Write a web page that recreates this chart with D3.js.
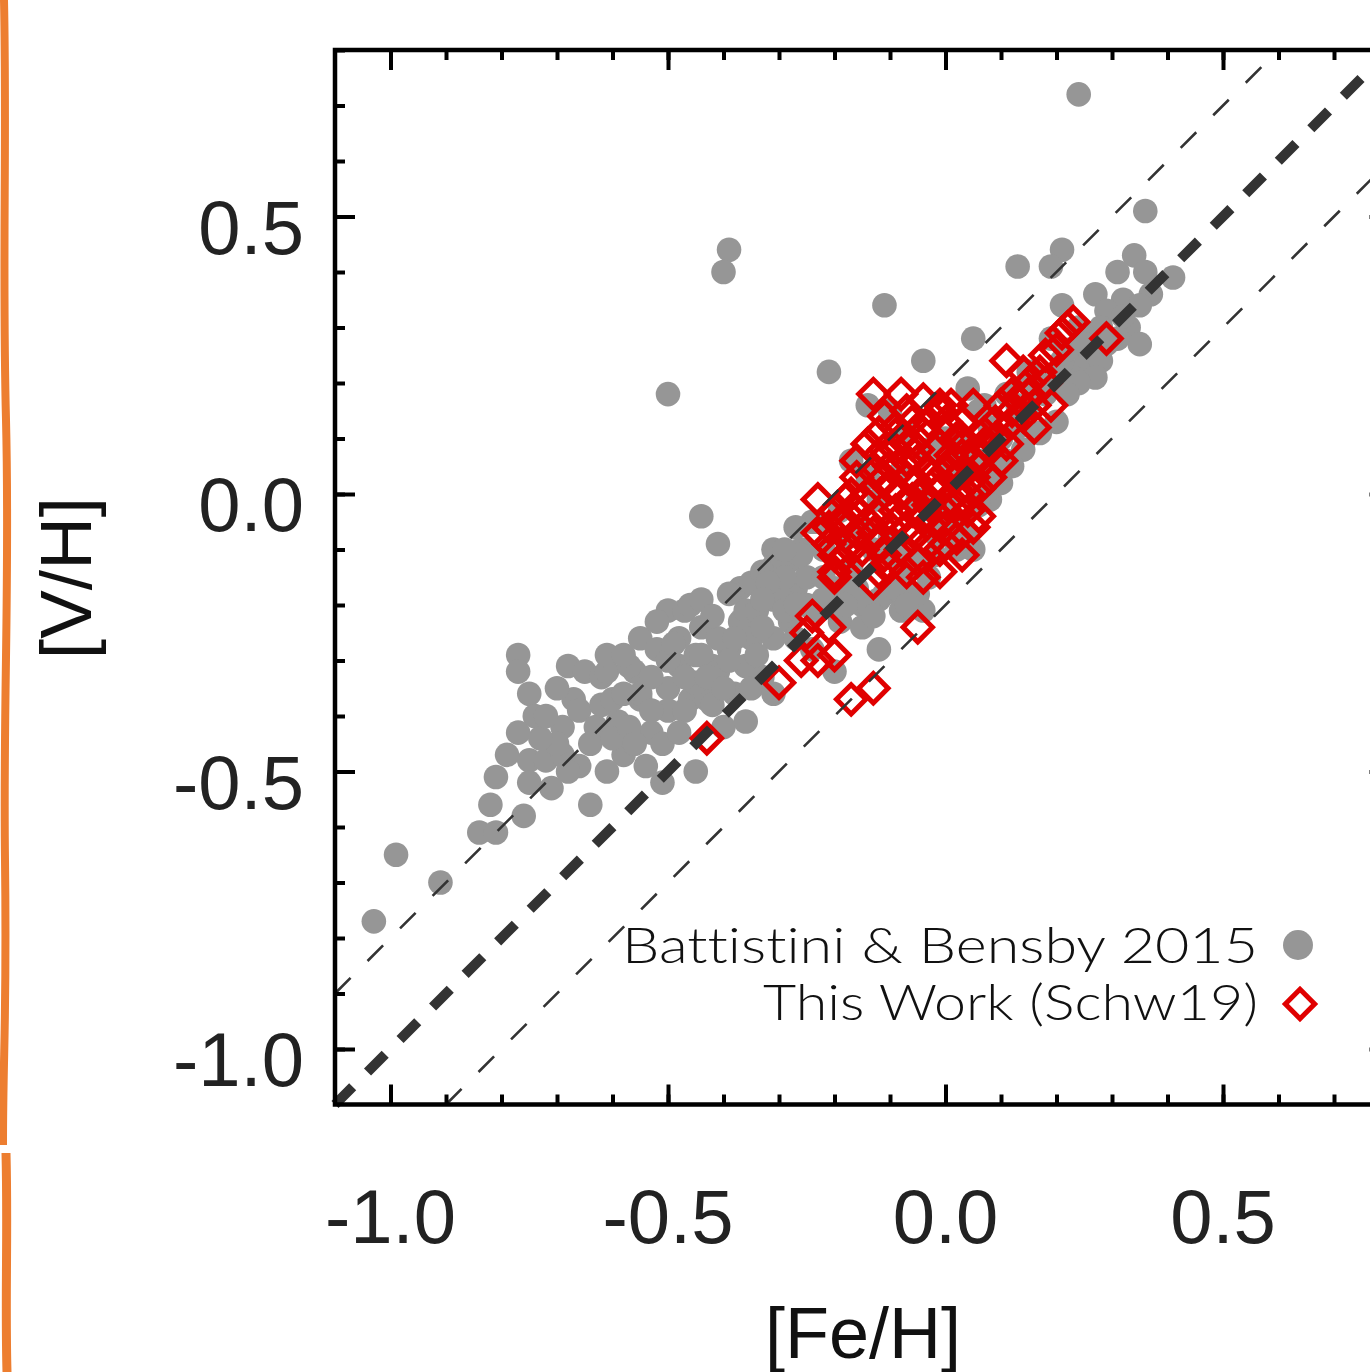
<!DOCTYPE html>
<html>
<head>
  <meta charset="utf-8">
  <title>[V/H] vs [Fe/H]</title>
  <script src="https://cdn.jsdelivr.net/npm/d3@7"></script>
  <style>
    body { margin: 0; background: #fff; }
  </style>
</head>
<body>
  <svg width="1370" height="1372" id="mainsvg"></svg>
  <script>
    // Battistini & Bensby 2015 sample: [Fe/H], [V/H]
    const battistiniPoints = [
      [-1.03,-0.77],[-0.99,-0.65],[-0.91,-0.70],[-0.77,-0.29],[-0.77,-0.32],[-0.75,-0.36],[-0.74,-0.40],[-0.77,-0.43],
      [-0.81,-0.51],[-0.82,-0.56],[-0.84,-0.61],[-0.81,-0.61],[-0.76,-0.58],[-0.75,-0.48],[-0.75,-0.52],[-0.71,-0.53],
      [-0.72,-0.48],[-0.68,-0.31],[-0.65,-0.32],[-0.62,-0.33],[-0.67,-0.37],[-0.69,-0.42],[-0.66,-0.39],[-0.63,-0.42],
      [-0.64,-0.45],[-0.66,-0.49],[-0.69,-0.47],[-0.64,-0.56],[-0.62,-0.38],[-0.59,-0.41],[-0.56,-0.32],[-0.55,-0.37],
      [-0.55,-0.26],[-0.52,-0.28],[-0.50,-0.21],[-0.47,-0.21],[-0.37,-0.23],[-0.48,-0.31],[-0.45,-0.29],[-0.42,-0.31],
      [-0.39,-0.28],[-0.50,-0.39],[-0.46,-0.37],[-0.43,-0.37],[-0.53,-0.43],[-0.51,-0.45],[-0.58,-0.47],[-0.54,-0.49],
      [-0.51,-0.52],[-0.45,-0.50],[-0.40,-0.42],
      [-0.44,-0.04],[-0.41,-0.09],[-0.31,-0.10],[-0.37,-0.17],[-0.35,-0.16],[-0.31,-0.13],[-0.28,-0.12],[-0.26,-0.10],
      [-0.24,-0.05],[-0.46,-0.20],[-0.44,-0.19],[-0.48,-0.26],[-0.44,-0.24],[-0.41,-0.26],[-0.36,-0.21],[-0.34,-0.21],
      [-0.31,-0.19],[-0.27,-0.17],[-0.25,-0.15],[-0.28,-0.23],[-0.25,-0.20],[-0.61,-0.32],[-0.57,-0.31],[-0.50,-0.30],
      [-0.44,-0.29],[-0.35,-0.26],[-0.31,-0.26],[-0.60,-0.37],[-0.55,-0.36],[-0.50,-0.35],[-0.45,-0.34],[-0.41,-0.32],
      [-0.36,-0.31],[-0.33,-0.33],[-0.53,-0.39],[-0.47,-0.39],[-0.42,-0.38],[-0.38,-0.36],[-0.36,-0.41],[-0.20,-0.32],
      [-0.12,-0.28],[-0.15,-0.20],[-0.19,-0.23],[-0.23,-0.21],[-0.20,-0.17],[-0.16,-0.17],[-0.12,-0.19],
      [-0.39,0.44],[-0.40,0.40],[-0.11,0.34],[-0.21,0.22],[-0.04,0.24],[-0.50,0.18],[-0.14,0.16],[-0.10,0.15],[-0.07,0.11],
      [0.13,0.41],[0.21,0.44],[0.19,0.41],[0.34,0.43],[0.31,0.40],[0.36,0.40],[0.41,0.39],[0.37,0.36],[0.27,0.36],
      [0.21,0.34],[0.32,0.35],[0.35,0.34],[0.29,0.33],[0.28,0.30],[0.33,0.30],[0.35,0.27],[0.31,0.28],[0.26,0.28],
      [0.26,0.25],[0.25,0.23],[0.28,0.24],[0.27,0.21],[0.23,0.21],[0.21,0.24],[0.05,0.28],[0.04,0.19],[0.07,0.16],
      [0.11,0.18],[0.15,0.22],[0.19,0.28],[0.20,0.13],[0.17,0.11],[0.14,0.08],[0.12,0.05],[0.09,0.06],[0.13,0.16],
      [0.18,0.18],[0.24,0.72],[0.36,0.51],
      [0.06,0.15],[0.24,0.20],[0.05,-0.10],[0.08,-0.01],[-0.04,-0.21],[0.02,-0.10],[-0.08,-0.15],[-0.11,-0.18],
      [0.06,-0.02],[0.08,0.01],[0.11,0.06],[-0.14,-0.20],[-0.30,-0.18],[-0.35,-0.35],[-0.31,-0.36],
      [-0.27,-0.06],[-0.23,-0.05],[-0.26,-0.11],[-0.22,-0.15],
      [-0.17,0.06],[-0.14,0.03],[-0.08,0.04],[-0.05,-0.01],[-0.01,-0.05],[-0.15,-0.06],[-0.10,-0.08],[-0.06,-0.12],
      [-0.03,-0.15],[-0.12,-0.01],[-0.19,-0.03],[0.03,0.03],[-0.03,0.08],[0.01,0.06],[0.06,0.06],[0.08,0.12],
      [0.10,0.10],[0.15,0.15],[0.17,0.21],[0.22,0.26],[0.24,0.30],
      [-0.33,-0.14],[-0.29,-0.15],[-0.22,-0.10],[-0.18,-0.08],[-0.17,-0.13],[-0.13,-0.10],[-0.09,-0.11],[-0.05,-0.18],
      [-0.08,-0.21],[-0.02,-0.11],[0.00,-0.02],[0.03,-0.05],[0.04,0.09],[0.00,0.10],[-0.27,-0.26],[-0.24,-0.28],
      [-0.70,-0.45],[-0.68,-0.50],[-0.60,-0.44],[-0.57,-0.42],[-0.58,-0.36],[-0.53,-0.33],[-0.49,-0.27],[-0.47,-0.33],
      [-0.43,-0.33],[-0.40,-0.35],[-0.39,-0.30],[-0.34,-0.29],[-0.33,-0.24],[-0.29,-0.21],[-0.27,-0.20],[-0.32,-0.16],
      [-0.38,-0.26],[-0.48,-0.43],[-0.56,-0.45],[-0.61,-0.50],[-0.79,-0.47],[-0.73,-0.44],[-0.72,-0.40],[-0.70,-0.35],
      [-0.61,-0.29],[-0.58,-0.29],[-0.52,-0.23],[-0.42,-0.22],[-0.39,-0.18],[-0.33,-0.19],[-0.29,-0.10],[-0.22,-0.19],
      [-0.18,-0.20],[-0.15,-0.24],[-0.13,-0.22],[-0.09,-0.17],[-0.07,-0.20],[-0.02,-0.07],[0.02,-0.07],[0.04,-0.08],
      [0.08,0.04],[0.10,0.02],[0.13,0.12],[0.16,0.18],[0.19,0.21],[0.22,0.18],[0.25,0.27],[0.29,0.27],[0.32,0.32]
    ];

    // This Work (Schw19): [Fe/H], [V/H]
    const thisWorkPoints = [
      [-0.43,-0.44],[-0.05,-0.24],[-0.13,-0.35],[-0.17,-0.37],[-0.20,-0.29],[-0.23,-0.30],[-0.26,-0.30],[-0.30,-0.34],
      [-0.25,-0.25],[-0.21,-0.24],[-0.24,-0.22],[-0.04,-0.15],[-0.01,-0.14],[-0.20,-0.14],[-0.13,-0.16],[-0.12,-0.14],
      [-0.19,-0.12],[-0.23,-0.01],[-0.20,-0.11],[-0.20,-0.15],[-0.15,-0.10],[-0.16,-0.03],[-0.19,-0.05],[-0.10,0.01],
      [-0.14,0.00],[-0.13,0.18],[-0.08,0.18],[-0.01,0.16],[0.01,0.12],[-0.03,0.13],[-0.01,0.15],[-0.12,0.11],
      [-0.14,0.09],[-0.09,0.08],[-0.05,0.06],[-0.02,0.08],[0.01,0.07],[0.03,0.10],[-0.11,0.03],[-0.16,0.03],
      [-0.18,-0.01],[-0.15,-0.01],[-0.08,0.00],[-0.05,0.02],[-0.01,0.01],[0.02,0.03],[0.06,0.05],[0.08,0.08],
      [-0.21,-0.06],[-0.18,-0.05],[-0.12,-0.04],[-0.09,-0.03],[-0.06,-0.03],[-0.03,-0.02],[0.01,-0.01],[0.04,0.00],
      [0.06,-0.04],[0.05,-0.06],[0.00,-0.06],[-0.05,-0.07],[-0.08,-0.10],[-0.15,-0.12],[-0.01,-0.10],[0.03,-0.11],
      [0.00,0.13],[0.12,0.18],[0.16,0.16],[0.18,0.20],[0.16,0.12],[0.12,0.13],[0.09,0.10],[0.06,0.07],
      [0.03,0.04],[0.06,0.01],[0.02,-0.02],[0.00,-0.09],[-0.05,-0.12],[-0.07,0.06],[-0.05,0.08],
      [0.23,0.31],[0.22,0.30],[0.29,0.28],[0.11,0.24],[0.20,0.26],[0.18,0.25],[0.17,0.22],[0.15,0.20],
      [0.13,0.17],[0.19,0.16],[0.12,0.15],[0.07,0.11],[0.05,0.06],[0.01,0.16],[0.14,0.22],[0.21,0.29],
      [-0.10,0.05],[-0.12,0.07],[-0.07,0.03],[-0.03,0.04],[0.00,0.04],[-0.04,0.11],[-0.06,0.13],[-0.09,0.12],
      [-0.11,0.14],[0.03,0.07],[-0.02,-0.05],[-0.07,-0.06],[-0.10,-0.06],[-0.13,-0.07],[-0.16,-0.07],[-0.17,-0.10],
      [-0.10,-0.13],[-0.07,-0.14],[-0.03,-0.09],[0.02,-0.08],[0.04,-0.03],[0.08,0.03],[0.10,0.06],[0.11,0.09],
      [0.14,0.14],[0.15,0.18],[-0.17,0.00],[-0.20,-0.03],[-0.21,-0.09],[-0.23,-0.07],[0.03,0.13],[0.05,0.16],
      [-0.13,0.04],[-0.11,0.08],[-0.08,0.10],[-0.06,0.09],[-0.04,0.00],[-0.02,0.02],[0.01,0.05],[0.03,0.01],
      [-0.06,-0.01],[-0.09,-0.05],[-0.12,-0.09],[-0.14,-0.05],[-0.04,-0.04],[0.00,-0.03],[0.05,0.03],[0.07,0.09],
      [-0.07,0.15],[-0.04,0.17],[0.02,0.10],[-0.16,0.06],[-0.11,-0.11],[-0.06,-0.08],[0.09,0.13],[0.10,0.16]
    ];

    const majorTicks = [-1.0, -0.5, 0.0, 0.5];
    const minorTicks = d3.range(-10, 9).map(i => i / 10);
    const refOffsets = [0, 0.2, -0.2];   // lines [V/H] = [Fe/H] + offset
    const legendLabels = ['Battistini & Bensby 2015', 'This Work (Schw19)'];

    const svg = d3.select('#mainsvg');
    const margin = {top: 50, left: 335};
    const plotW = 1054.5, plotH = 1054.5;
    const domain = [-1.1, 0.8];

    const x = d3.scaleLinear().domain(domain).range([margin.left, margin.left + plotW]);
    const y = d3.scaleLinear().domain(domain).range([margin.top + plotH, margin.top]);

    const gray = '#969696';
    const red = '#e00000';
    const fmt = d => d.toFixed(1);

    // orange strip on the left edge of the page
    svg.append('path')
      .attr('d', 'M4,0 C7,150 2,260 6,420 S3,700 5,860 S3,1050 3,1145')
      .attr('fill', 'none').attr('stroke', '#ED7E30').attr('stroke-width', 8);
    svg.append('path')
      .attr('d', 'M6,1153 C8,1230 5,1300 7,1372')
      .attr('fill', 'none').attr('stroke', '#ED7E30').attr('stroke-width', 9);

    // points
    svg.append('g').selectAll('circle').data(battistiniPoints).join('circle')
      .attr('cx', d => x(d[0]))
      .attr('cy', d => y(d[1]))
      .attr('r', 12.3)
      .attr('fill', gray);

    const diamond = d3.symbol().type(d3.symbolSquare).size(430);
    svg.append('g').selectAll('path').data(thisWorkPoints).join('path')
      .attr('d', diamond)
      .attr('transform', d => `translate(${x(d[0])},${y(d[1])}) rotate(45)`)
      .attr('fill', 'none')
      .attr('stroke', red)
      .attr('stroke-width', 5);

    // one-to-one line and +-0.2 dex lines
    svg.append('g').selectAll('line').data(refOffsets).join('line')
      .attr('x1', o => x(Math.max(domain[0], domain[0] - o)))
      .attr('y1', o => y(Math.max(domain[0], domain[0] - o) + o))
      .attr('x2', o => x(Math.min(domain[1], domain[1] - o)))
      .attr('y2', o => y(Math.min(domain[1], domain[1] - o) + o))
      .attr('stroke', '#333')
      .attr('stroke-width', o => o === 0 ? 10 : 2.6)
      .attr('stroke-dasharray', o => o === 0 ? '25 21' : '22 24');

    // axes: minor and major ticks pointing inward on all four sides
    const axes = [
      [d3.axisBottom(x), `translate(0,${margin.top + plotH})`],
      [d3.axisTop(x), `translate(0,${margin.top})`],
      [d3.axisLeft(y), `translate(${margin.left},0)`],
      [d3.axisRight(y), `translate(${margin.left + plotW},0)`]
    ];
    axes.forEach(([ax, tr]) => {
      [[minorTicks, 10], [majorTicks, 20]].forEach(([vals, len]) => {
        const g = svg.append('g').attr('transform', tr)
          .call(ax.tickValues(vals).tickSize(-len).tickSizeOuter(0).tickFormat(''));
        g.select('.domain').remove();
        g.selectAll('line').attr('stroke', '#000').attr('stroke-width', 4);
      });
    });

    svg.append('rect')
      .attr('x', margin.left).attr('y', margin.top)
      .attr('width', plotW).attr('height', plotH)
      .attr('fill', 'none').attr('stroke', '#000').attr('stroke-width', 4.5);

    // tick labels
    const labelFont = '"Liberation Sans", Arial, Helvetica, sans-serif';
    svg.append('g').selectAll('text').data(majorTicks).join('text')
      .attr('x', d => x(d))
      .attr('y', 1243)
      .attr('text-anchor', 'middle')
      .attr('font-family', labelFont).attr('font-size', 76).attr('fill', '#222')
      .text(fmt);

    svg.append('g').selectAll('text').data(majorTicks).join('text')
      .attr('x', 304)
      .attr('y', d => y(d) + 37)
      .attr('text-anchor', 'end')
      .attr('font-family', labelFont).attr('font-size', 76).attr('fill', '#222')
      .text(fmt);

    // axis titles
    svg.append('text')
      .attr('x', 863).attr('y', 1358)
      .attr('text-anchor', 'middle')
      .attr('font-family', labelFont).attr('font-size', 72).attr('fill', '#111')
      .text('[Fe/H]');

    svg.append('text')
      .attr('transform', 'translate(91,578) rotate(-90)')
      .attr('text-anchor', 'middle')
      .attr('font-family', labelFont).attr('font-size', 73).attr('fill', '#111')
      .text('[V/H]');

    // legend
    const legend = svg.append('g');
    const legendEnd = 1258;
    const legendWidths = [636, 495];
    legend.selectAll('text').data(legendLabels).join('text')
      .attr('x', (d, i) => legendEnd - legendWidths[i])
      .attr('y', (d, i) => 963 + i * 57)
      .attr('textLength', (d, i) => legendWidths[i])
      .attr('lengthAdjust', 'spacingAndGlyphs')
      .attr('font-family', 'Lato, "DejaVu Sans", sans-serif')
      .attr('font-weight', 300)
      .attr('font-size', 50)
      .style('font-variant-ligatures', 'none')
      .attr('fill', '#111')
      .text(d => d);
    legend.append('circle')
      .attr('cx', 1298).attr('cy', 945).attr('r', 15).attr('fill', gray);
    legend.append('path')
      .attr('d', d3.symbol().type(d3.symbolSquare).size(430))
      .attr('transform', 'translate(1300,1004) rotate(45)')
      .attr('fill', 'none').attr('stroke', red).attr('stroke-width', 5);
  </script>
</body>
</html>
